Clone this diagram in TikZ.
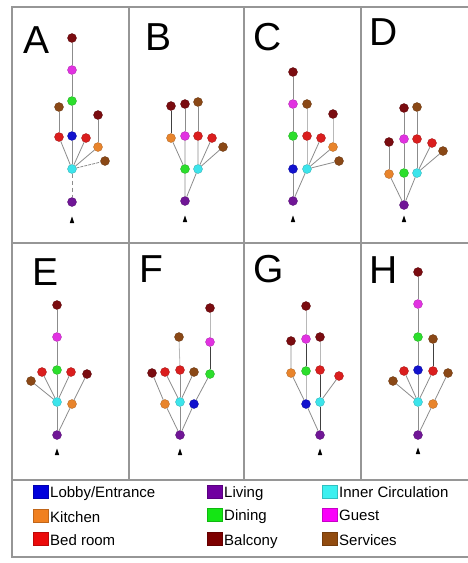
\documentclass[tikz,border=0pt]{standalone}
\usepackage{fontspec}
\setmainfont{Liberation Sans}
\definecolor{cLob}{RGB}{18,18,205}
\definecolor{cLiv}{RGB}{112,22,150}
\definecolor{cCir}{RGB}{60,228,235}
\definecolor{cKit}{RGB}{232,132,44}
\definecolor{cDin}{RGB}{44,222,44}
\definecolor{cGst}{RGB}{225,50,225}
\definecolor{cBed}{RGB}{218,30,30}
\definecolor{cBal}{RGB}{122,12,16}
\definecolor{cSrv}{RGB}{138,72,22}
\definecolor{kLob}{RGB}{0,0,220}
\definecolor{kLiv}{RGB}{112,0,160}
\definecolor{kCir}{RGB}{60,240,240}
\definecolor{kKit}{RGB}{240,128,32}
\definecolor{kDin}{RGB}{20,230,20}
\definecolor{kGst}{RGB}{250,0,250}
\definecolor{kBed}{RGB}{235,10,10}
\definecolor{kBal}{RGB}{125,0,0}
\definecolor{kSrv}{RGB}{145,75,15}
\definecolor{frameGray}{RGB}{150,150,150}
\tikzset{
  room/.style={circle, inner sep=0pt, minimum size=9pt, fill=#1, draw=#1!75!black, line width=0.3pt},
  lob/.style={room=cLob}, liv/.style={room=cLiv}, cir/.style={room=cCir},
  kit/.style={room=cKit}, din/.style={room=cDin}, gst/.style={room=cGst},
  bed/.style={room=cBed}, bal/.style={room=cBal}, srv/.style={room=cSrv},
  link/.style={draw=black!45, line width=0.8pt},
  darklink/.style={draw=black!75, line width=0.9pt},
  faintlink/.style={draw=black!28, line width=0.8pt},
  panelframe/.style={draw=frameGray, line width=1.4pt},
  tag/.style={anchor=base west, inner sep=0pt, font=\fontsize{39}{40}\selectfont},
  keybox/.style={minimum width=15pt, minimum height=13pt, inner sep=0pt, draw=#1!80!black, line width=0.3pt, fill=#1},
  keytext/.style={anchor=base west, inner sep=0pt, font=\fontsize{15}{16}\selectfont}
}
\newcommand{\entry}[1]{\fill[black] ($(#1)+(-2.2,3)$) -- ($(#1)+(2.2,3)$) -- ($(#1)+(0,-3.5)$) -- cycle;}
\usetikzlibrary{calc}
\begin{document}
\begin{tikzpicture}[x=1pt, y=-1pt]
\useasboundingbox[fill=white] (0,0) rectangle (468,563);

% frame and panel grid
\draw[panelframe] (470,7) -- (12,7) -- (12,557) -- (470,557);
\draw[panelframe] (12,243) -- (470,243);
\draw[panelframe] (12,480) -- (470,480);
\foreach \xx in {129,244,361} \draw[panelframe] (\xx,7) -- (\xx,480);

% panel letters
\node[tag] (tA) at (23,53) {A};
\node[tag] (tB) at (145,50) {B};
\node[tag] (tC) at (253,50) {C};
\node[tag] (tD) at (369,45) {D};
\node[tag] (tE) at (32,285) {E};
\node[tag] (tF) at (139,282) {F};
\node[tag] (tG) at (253,282) {G};
\node[tag] (tH) at (369,283) {H};

% ---------- A ----------
\node[bal] (A1) at (72,38) {};
\node[gst] (A2) at (72,70) {};
\node[din] (A3) at (72,101) {};
\node[srv] (A4) at (59,107) {};
\node[bal] (A5) at (98,115) {};
\node[bed] (A6) at (59,137) {};
\node[lob] (A7) at (72,136) {};
\node[bed] (A8) at (86,138) {};
\node[kit] (A9) at (98,147) {};
\node[srv] (A10) at (105,161) {};
\node[cir] (A11) at (72,169) {};
\node[liv] (A12) at (72,202) {};
\coordinate (Ae) at (72,220);
\draw[link] (A1) -- (A2) (A2) -- (A3) (A3) -- (A7) (A7) -- (A11);
\draw[link] (A4) -- (A6) (A5) -- (A9);
\draw[link] (A11) -- (A6) (A11) -- (A8) (A11) -- (A9);
\draw[link, dashed, dash pattern=on 3pt off 1pt] (A11) -- (A10);
\draw[link, dashed, dash pattern=on 4pt off 3pt] (A11) -- (A12);
\entry{Ae}

% ---------- B ----------
\node[bal] (B1) at (171,106) {};
\node[bal] (B2) at (185,104) {};
\node[srv] (B3) at (198,102) {};
\node[kit] (B4) at (171,138) {};
\node[gst] (B5) at (185,136) {};
\node[bed] (B6) at (198,136) {};
\node[bed] (B7) at (212,138) {};
\node[srv] (B8) at (223,147) {};
\node[din] (B9) at (185,169) {};
\node[cir] (B10) at (198,169) {};
\node[liv] (B11) at (185,201) {};
\coordinate (Be) at (185,219);
\draw[darklink] (B1) -- (B4);
\draw[link] (B2) -- (B5) (B3) -- (B6);
\draw[link] (B4) -- (B9) (B5) -- (B9) (B6) -- (B10) (B7) -- (B10) (B8) -- (B10);
\draw[link] (B9) -- (B11) (B10) -- (B11);
\entry{Be}

% ---------- C ----------
\node[bal] (C1) at (293,72) {};
\node[gst] (C2) at (293,104) {};
\node[srv] (C3) at (307,104) {};
\node[bal] (C4) at (333,114) {};
\node[din] (C5) at (293,136) {};
\node[bed] (C6) at (307,136) {};
\node[bed] (C7) at (321,138) {};
\node[kit] (C8) at (333,147) {};
\node[srv] (C9) at (339,161) {};
\node[lob] (C10) at (293,169) {};
\node[cir] (C11) at (307,169) {};
\node[liv] (C12) at (293,201) {};
\coordinate (Ce) at (293,219);
\draw[link] (C1) -- (C2) (C2) -- (C5) (C5) -- (C10) (C10) -- (C12);
\draw[faintlink] (C3) -- (C6) (C6) -- (C11) (C4) -- (C8);
\draw[link] (C11) -- (C7) (C11) -- (C8) (C11) -- (C9) (C11) -- (C12);
\entry{Ce}

% ---------- D ----------
\node[bal] (D1) at (404,108) {};
\node[srv] (D2) at (417,107) {};
\node[bal] (D3) at (389,142) {};
\node[gst] (D4) at (404,139) {};
\node[bed] (D5) at (417,139) {};
\node[bed] (D6) at (432,143) {};
\node[srv] (D7) at (443,151) {};
\node[kit] (D8) at (389,174) {};
\node[din] (D9) at (404,173) {};
\node[cir] (D10) at (417,173) {};
\node[liv] (D11) at (404,205) {};
\coordinate (De) at (404,219);
\draw[link] (D1) -- (D4) (D4) -- (D9) (D9) -- (D11);
\draw[link] (D2) -- (D5) (D5) -- (D10) (D3) -- (D8);
\draw[link] (D8) -- (D11) (D10) -- (D11) (D10) -- (D6) (D10) -- (D7);
\entry{De}

% ---------- E ----------
\node[bal] (E1) at (57,305) {};
\node[gst] (E2) at (57,337) {};
\node[din] (E3) at (57,370) {};
\node[bed] (E4) at (42,372) {};
\node[bed] (E5) at (71,372) {};
\node[bal] (E6) at (87,374) {};
\node[srv] (E7) at (31,381) {};
\node[cir] (E8) at (57,402) {};
\node[kit] (E9) at (72,404) {};
\node[liv] (E10) at (57,435) {};
\coordinate (Ee) at (57,452);
\draw[link] (E1) -- (E2) (E2) -- (E3) (E3) -- (E8) (E8) -- (E10);
\draw[link] (E8) -- (E4) (E8) -- (E5) (E8) -- (E7);
\draw[link] (E6) -- (E9) (E9) -- (E10);
\entry{Ee}

% ---------- F ----------
\node[bal] (F1) at (210,308) {};
\node[srv] (F2) at (179,337) {};
\node[gst] (F3) at (210,342) {};
\node[bal] (F4) at (152,373) {};
\node[bed] (F5) at (165,372) {};
\node[bed] (F6) at (180,370) {};
\node[srv] (F7) at (194,372) {};
\node[din] (F8) at (210,374) {};
\node[kit] (F9) at (165,404) {};
\node[cir] (F10) at (180,402) {};
\node[lob] (F11) at (194,404) {};
\node[liv] (F12) at (180,435) {};
\coordinate (Fe) at (180,452);
\draw[faintlink] (F1) -- (F3);
\draw[darklink] (F3) -- (F8);
\draw[faintlink] (F2) -- (F6);
\draw[link] (F6) -- (F10) (F10) -- (F12);
\draw[link] (F4) -- (F9) (F9) -- (F12) (F5) -- (F10) (F7) -- (F10);
\draw[link] (F8) -- (F11) (F11) -- (F12);
\entry{Fe}

% ---------- G ----------
\node[bal] (G1) at (306,306) {};
\node[bal] (G2) at (291,341) {};
\node[gst] (G3) at (306,339) {};
\node[bal] (G4) at (320,337) {};
\node[kit] (G5) at (291,373) {};
\node[din] (G6) at (306,371) {};
\node[bed] (G7) at (320,370) {};
\node[bed] (G8) at (339,376) {};
\node[lob] (G9) at (306,404) {};
\node[cir] (G10) at (320,402) {};
\node[liv] (G11) at (320,435) {};
\coordinate (Ge) at (320,452);
\draw[faintlink] (G1) -- (G3) (G6) -- (G9) (G4) -- (G7);
\draw[darklink] (G3) -- (G6) (G7) -- (G10) (G10) -- (G11);
\draw[link] (G2) -- (G5) (G5) -- (G9) (G9) -- (G11) (G8) -- (G10);
\entry{Ge}

% ---------- H ----------
\node[bal] (H1) at (418,272) {};
\node[gst] (H2) at (418,304) {};
\node[din] (H3) at (418,337) {};
\node[srv] (H4) at (433,339) {};
\node[bed] (H5) at (404,371) {};
\node[lob] (H6) at (418,370) {};
\node[bed] (H7) at (433,371) {};
\node[srv] (H8) at (448,373) {};
\node[srv] (H9) at (393,381) {};
\node[cir] (H10) at (418,402) {};
\node[kit] (H11) at (433,404) {};
\node[liv] (H12) at (418,435) {};
\coordinate (He) at (418,451);
\draw[link] (H1) -- (H2) (H2) -- (H3) (H3) -- (H6) (H6) -- (H10) (H10) -- (H12);
\draw[darklink] (H4) -- (H7);
\draw[link] (H10) -- (H5) (H10) -- (H7) (H10) -- (H9);
\draw[link] (H8) -- (H11) (H11) -- (H12);
\entry{He}

% ---------- key ----------
\node[keybox=kLob] (k1) at (40.5,492) {};
\node[keytext] (k1t) at (50,497) {Lobby/Entrance};
\node[keybox=kKit] (k2) at (40.5,516) {};
\node[keytext] (k2t) at (50,522) {Kitchen};
\node[keybox=kBed] (k3) at (40.5,539) {};
\node[keytext] (k3t) at (50,545) {Bed room};
\node[keybox=kLiv] (k4) at (215,492) {};
\node[keytext] (k4t) at (224,497) {Living};
\node[keybox=kDin] (k5) at (215,515) {};
\node[keytext] (k5t) at (224,520) {Dining};
\node[keybox=kBal] (k6) at (215,539) {};
\node[keytext] (k6t) at (224,545) {Balcony};
\node[keybox=kCir] (k7) at (330,492) {};
\node[keytext] (k7t) at (339,497) {Inner Circulation};
\node[keybox=kGst] (k8) at (330,515) {};
\node[keytext] (k8t) at (339,520) {Guest};
\node[keybox=kSrv] (k9) at (330,539) {};
\node[keytext] (k9t) at (339,545) {Services};
\end{tikzpicture}
\end{document}
